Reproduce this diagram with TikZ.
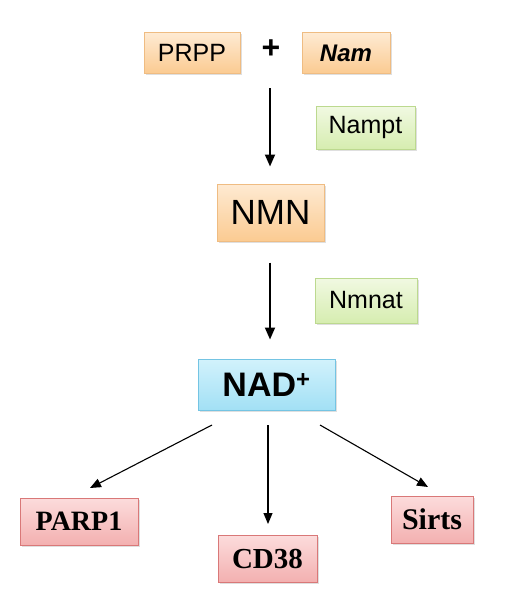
\documentclass[tikz,border=0pt]{standalone}
\usepackage{fontspec}
\setmainfont{Liberation Sans}
\newfontfamily\timesf{Liberation Serif}
\usetikzlibrary{arrows.meta,shadows}
\definecolor{orT}{HTML}{FEEAD2}
\definecolor{orB}{HTML}{FBCB92}
\definecolor{orD}{HTML}{EFBC82}
\definecolor{grT}{HTML}{F1F9E2}
\definecolor{grB}{HTML}{D6EDB0}
\definecolor{grD}{HTML}{BCD98F}
\definecolor{blT}{HTML}{D2F2FC}
\definecolor{blB}{HTML}{A2E0F5}
\definecolor{blD}{HTML}{74C4E3}
\definecolor{rdT}{HTML}{FCDCDC}
\definecolor{rdB}{HTML}{F3B0B0}
\definecolor{rdD}{HTML}{D97878}
\tikzset{
  x=1pt, y=-1pt,
  boxbase/.style={draw, line width=1pt, inner sep=0pt, align=center,
    drop shadow={shadow xshift=1.5pt, shadow yshift=-1.5pt, opacity=0.25}},
  orbox/.style={boxbase, draw=orD, top color=orT, bottom color=orB},
  grbox/.style={boxbase, draw=grD, top color=grT, bottom color=grB},
  blbox/.style={boxbase, draw=blD, top color=blT, bottom color=blB},
  rdbox/.style={boxbase, draw=rdD, top color=rdT, bottom color=rdB},
  bigarr/.style={line width=1.8pt, -{Triangle[length=12pt,width=10pt]}},
  thinarr/.style={line width=1.1pt, -{Triangle[length=11pt,width=9pt]}},
}
\begin{document}
\begin{tikzpicture}
\useasboundingbox (0,0) rectangle (508,602);
\node[orbox, minimum width=96pt, minimum height=40pt, font=\fontsize{25}{28}\selectfont] (prpp) at (192,53) {PRPP};
\node[font=\fontsize{32}{34}\selectfont\bfseries] (plus) at (271,49) {+};
\node[orbox, minimum width=88pt, minimum height=40pt, font=\fontsize{24}{27}\selectfont\bfseries\itshape] (nam) at (346,53) {Nam};
\node[grbox, minimum width=99pt, minimum height=43pt, font=\fontsize{25}{28}\selectfont] (nampt) at (365.5,127.5) {Nampt};
\node[orbox, minimum width=107pt, minimum height=57pt, font=\fontsize{35}{38}\selectfont] (nmn) at (270.5,212.5) {NMN};
\node[grbox, minimum width=102pt, minimum height=45pt, font=\fontsize{25}{28}\selectfont] (nmnat) at (366,300.5) {Nmnat};
\node[blbox, minimum width=137pt, minimum height=51pt, font=\fontsize{34}{36}\selectfont\bfseries] (nad) at (266.5,384.5) {NAD\textsuperscript{+}};
\node[rdbox, minimum width=118pt, minimum height=47pt, font=\fontsize{28}{30}\selectfont\timesf\bfseries] (parp) at (79,521.5) {PARP1};
\node[rdbox, minimum width=99pt, minimum height=47pt, font=\fontsize{29}{31}\selectfont\timesf\bfseries] (cd) at (267.5,558.5) {CD38};
\node[rdbox, minimum width=82pt, minimum height=47pt, font=\fontsize{30}{32}\selectfont\timesf\bfseries] (sirts) at (432,519.5) {Sirts};
\coordinate (s1) at (270,88);
\draw[bigarr, shorten >=17pt] (s1) -- (nmn.north -| s1);
\draw[bigarr, shorten <=21pt, shorten >=19pt] (nmn.south -| s1) -- (nad.north -| s1);
\coordinate (l1) at (212,425);
\coordinate (l2) at (90,488);
\coordinate (m1) at (268,425);
\coordinate (m2) at (268,524);
\coordinate (r1) at (320,425);
\coordinate (r2) at (428,487);
\draw[thinarr] (l1) -- (l2);
\draw[thinarr] (m1) -- (m2);
\draw[thinarr] (r1) -- (r2);
\end{tikzpicture}
\end{document}
